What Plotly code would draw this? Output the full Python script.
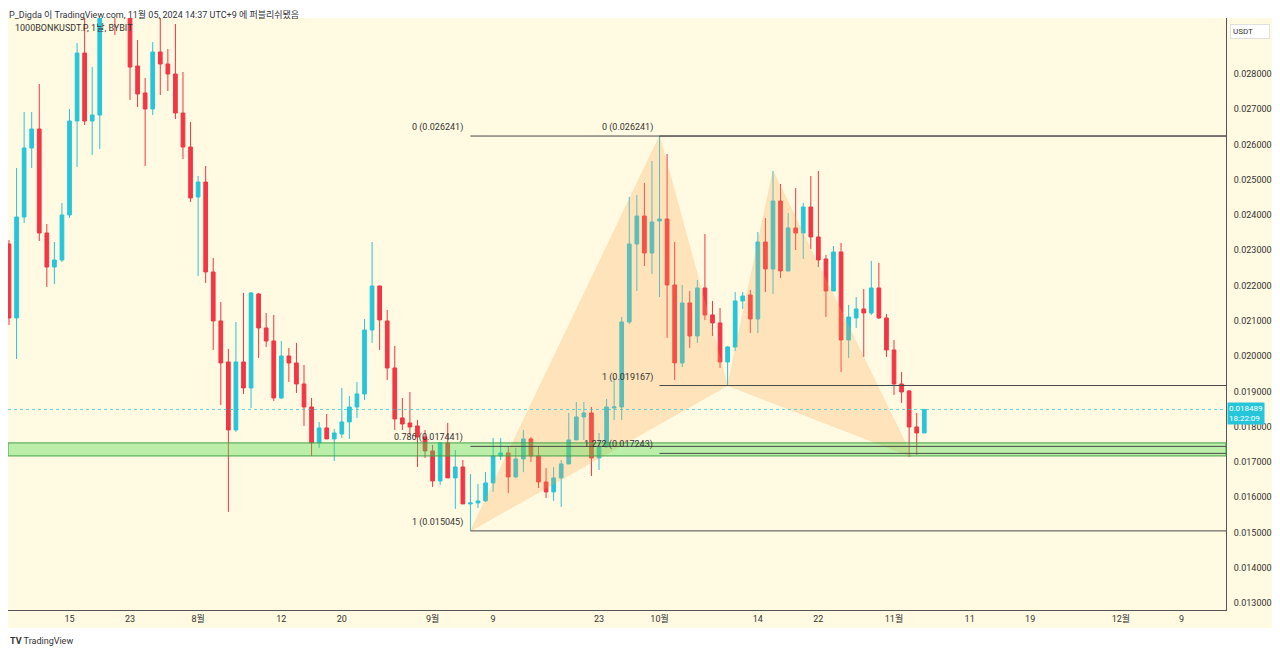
import pandas as pd
import plotly.graph_objects as go

# ---------------- data ----------------
dates = pd.date_range("2024-07-07", periods=122, freq="D")

opens = [0.023180,0.021083,0.023946,0.025902,0.026441,0.023492,0.022528,0.022727,0.024003,0.026668,
         0.028595,0.026668,0.026838,0.030000,0.030600,0.029900,0.030400,0.028227,0.027461,0.027008,
         0.028624,0.028284,0.028000,0.026894,0.025930,0.024513,0.024938,0.022387,0.020998,0.019835,
         0.017907,0.019835,0.019098,0.021763,0.020799,0.020431,0.018815,0.020005,0.019807,0.019211,
         0.018559,0.017539,0.017964,0.017652,0.017794,0.018134,0.018559,0.018928,0.020742,0.021990,
         0.020998,0.019665,0.018248,0.018106,0.018021,0.017709,0.017312,0.016462,0.017539,0.016547,
         0.016858,0.015810,0.015838,0.015895,0.016405,0.017170,0.017255,0.016575,0.017085,0.017652,
         0.017170,0.016433,0.016150,0.016547,0.016943,0.017624,0.018276,0.018389,0.017114,0.017425,
         0.018531,0.018559,0.020969,0.023180,0.023974,0.022925,0.023833,0.023889,0.022018,0.019807,
         0.021508,0.020572,0.021933,0.021168,0.020941,0.019835,0.020260,0.021565,0.021735,0.021054,
         0.023237,0.022472,0.024400,0.022415,0.023634,0.023492,0.024229,0.023379,0.022755,0.021848,
         0.022954,0.020459,0.021083,0.021338,0.021224,0.021933,0.021083,0.020175,0.019211,0.019013,
         0.017992,0.017822]
highs = [0.023294,0.025335,0.026923,0.026923,0.027716,0.023747,0.023237,0.024343,0.027008,0.028879,
         0.029800,0.028198,0.030300,0.031000,0.031200,0.030800,0.030700,0.028964,0.027887,0.028907,
         0.029700,0.028709,0.029418,0.028057,0.026639,0.025108,0.025392,0.022784,0.021536,0.020204,
         0.020969,0.021791,0.021820,0.021790,0.021224,0.021168,0.020431,0.020232,0.020374,0.019750,
         0.018815,0.018134,0.018361,0.017936,0.019098,0.018871,0.019268,0.021054,0.023237,0.022000,
         0.021309,0.020289,0.018815,0.018985,0.018191,0.017907,0.017482,0.017560,0.018106,0.017340,
         0.017057,0.016660,0.016376,0.016717,0.017681,0.017681,0.017425,0.017397,0.017907,0.017709,
         0.017425,0.016830,0.016858,0.017057,0.018389,0.018701,0.018701,0.018559,0.017822,0.018786,
         0.019382,0.021111,0.024513,0.024570,0.024910,0.025534,0.026241,0.025732,0.023237,0.022018,
         0.021848,0.022160,0.023464,0.021565,0.021366,0.020280,0.021820,0.021820,0.021876,0.023521,
         0.023918,0.025250,0.024881,0.024059,0.024768,0.024343,0.025108,0.025250,0.022869,0.023124,
         0.023209,0.021451,0.021678,0.021905,0.022699,0.022642,0.021196,0.020459,0.019552,0.019041,
         0.018389,0.018489]
lows = [0.020884,0.019920,0.023776,0.025335,0.023266,0.021961,0.022046,0.022670,0.023918,0.025363,
        0.026554,0.025704,0.025874,0.029700,0.029106,0.029700,0.027263,0.027064,0.025392,0.026838,
        0.027405,0.027518,0.026724,0.025590,0.024371,0.022273,0.022075,0.020175,0.018616,0.015583,
        0.017851,0.018928,0.018531,0.019949,0.020260,0.018730,0.018786,0.019268,0.018956,0.018021,
        0.017170,0.017397,0.017652,0.017029,0.017681,0.017652,0.018248,0.018758,0.020374,0.020175,
        0.019325,0.017907,0.017907,0.017766,0.016858,0.017114,0.016291,0.016348,0.016547,0.015668,
        0.015810,0.015045,0.015696,0.015866,0.016150,0.017057,0.016121,0.016550,0.016717,0.017000,
        0.016263,0.015980,0.015895,0.015724,0.016943,0.017624,0.017624,0.016603,0.016773,0.017425,
        0.018191,0.018191,0.020912,0.021848,0.022557,0.022330,0.021678,0.020516,0.019325,0.019693,
        0.020232,0.020374,0.021026,0.020572,0.019665,0.019167,0.020147,0.021338,0.020657,0.020657,
        0.021820,0.021763,0.022217,0.022415,0.023010,0.022755,0.023039,0.022528,0.021111,0.021848,
        0.019552,0.019949,0.020799,0.019977,0.021168,0.021054,0.019977,0.018900,0.018673,0.017142,
        0.017199,0.017822]
closes = [0.021083,0.023946,0.025902,0.026441,0.023492,0.022528,0.022727,0.024003,0.026668,0.028595,
          0.026668,0.026838,0.030000,0.030600,0.029900,0.030400,0.028198,0.027433,0.027008,0.028624,
          0.028284,0.028000,0.026894,0.025930,0.024485,0.024938,0.022387,0.020998,0.019807,0.017907,
          0.019835,0.019098,0.021791,0.020799,0.020431,0.018815,0.020005,0.019807,0.019211,0.018559,
          0.017539,0.017964,0.017652,0.017822,0.018134,0.018559,0.018928,0.020742,0.021990,0.021026,
          0.019665,0.018219,0.018077,0.017992,0.017709,0.017312,0.016462,0.017539,0.016547,0.016858,
          0.015810,0.015838,0.015895,0.016405,0.017170,0.017255,0.016575,0.017085,0.017652,0.017170,
          0.016433,0.016150,0.016547,0.016943,0.017624,0.018276,0.018389,0.017114,0.017425,0.018559,
          0.018559,0.020969,0.023180,0.023974,0.022925,0.023804,0.023889,0.022018,0.019807,0.021508,
          0.020572,0.021933,0.021168,0.020941,0.019835,0.020260,0.021565,0.021706,0.021054,0.023237,
          0.022472,0.024400,0.022415,0.023634,0.023492,0.024229,0.023379,0.022727,0.021848,0.022954,
          0.020459,0.021111,0.021338,0.021224,0.021933,0.021083,0.020175,0.019211,0.018985,0.017992,
          0.017822,0.018489]

# harmonic pattern points (X, A, B, C, D)
pattern_dates = ["2024-09-06", "2024-10-01", "2024-10-10", "2024-10-16", "2024-11-03 10:00"]
pattern_prices = [0.015045, 0.026241, 0.019167, 0.025250, 0.017142]

# fibonacci levels: (start date, price, label)
fib_starts = ["2024-09-06", "2024-09-06", "2024-09-06", "2024-10-01", "2024-10-01", "2024-10-01"]
fib_prices = [0.026241, 0.017441, 0.015045, 0.026241, 0.019167, 0.017243]
fib_labels = ["0 (0.026241)", "0.786 (0.017441)", "1 (0.015045)",
              "0 (0.026241)", "1 (0.019167)", "1.272 (0.017243)"]

zone_low, zone_high = 0.01717, 0.01754
last_price = 0.018489
countdown = "18:22:09"

tick_dates = ["2024-07-15", "2024-07-23", "2024-08-01", "2024-08-12", "2024-08-20", "2024-09-01",
              "2024-09-09", "2024-09-23", "2024-10-01", "2024-10-14", "2024-10-22", "2024-11-01",
              "2024-11-11", "2024-11-19", "2024-12-01", "2024-12-09"]
tick_labels = ["15", "23", "8월", "12", "20", "9월", "9", "23", "10월", "14", "22", "11월",
               "11", "19", "12월", "9"]

price_ticks = [0.013, 0.014, 0.015, 0.016, 0.017, 0.018, 0.019, 0.020, 0.021, 0.022,
               0.023, 0.024, 0.025, 0.026, 0.027, 0.028]

# ---------------- style ----------------
UP = "#26c6da"
DOWN = "#f23645"
BG = "#fffae1"
FONT = "Roboto, 'Noto Sans CJK KR', sans-serif"
X_RANGE = ["2024-07-06 20:50", "2024-12-14 21:20"]
Y_RANGE = [0.012802, 0.029588]

fig = go.Figure()

# harmonic triangles XAB and BCD
tri1_x = [pattern_dates[0], pattern_dates[1], pattern_dates[2], pattern_dates[0]]
tri1_y = [pattern_prices[0], pattern_prices[1], pattern_prices[2], pattern_prices[0]]
tri2_x = [pattern_dates[2], pattern_dates[3], pattern_dates[4], pattern_dates[2]]
tri2_y = [pattern_prices[2], pattern_prices[3], pattern_prices[4], pattern_prices[2]]
for tx, ty in [(tri1_x, tri1_y), (tri2_x, tri2_y)]:
    fig.add_trace(go.Scatter(x=tx, y=ty, mode="lines", fill="toself",
                             fillcolor="rgba(255,165,80,0.26)",
                             line=dict(color="rgba(255,165,80,0.15)", width=1),
                             hoverinfo="skip", showlegend=False))

fig.add_trace(go.Candlestick(
    x=dates, open=opens, high=highs, low=lows, close=closes,
    increasing=dict(line=dict(color=UP, width=1), fillcolor=UP),
    decreasing=dict(line=dict(color=DOWN, width=1), fillcolor=DOWN),
    whiskerwidth=0, hoverinfo="skip", showlegend=False))

shapes = []
# yellow background behind axes area
shapes.append(dict(type="rect", xref="paper", yref="paper", x0=0, x1=1.0386, y0=-0.0304, y1=1.0,
                   fillcolor=BG, line=dict(width=0), layer="below"))
# green zone
shapes.append(dict(type="rect", xref="paper", yref="y", x0=0, x1=1, y0=zone_low, y1=zone_high,
                   fillcolor="rgba(76,220,80,0.38)", line=dict(color="#43a047", width=1), layer="above"))
# fib lines
for s, p in zip(fib_starts, fib_prices):
    shapes.append(dict(type="line", xref="x", yref="y", x0=s, x1=X_RANGE[1], y0=p, y1=p,
                       line=dict(color="#4a4a4a", width=1), layer="above"))
# last price dotted line
shapes.append(dict(type="line", xref="paper", yref="y", x0=0, x1=1, y0=last_price, y1=last_price,
                   line=dict(color="rgba(38,198,218,0.75)", width=1, dash="dot"), layer="above"))

annotations = []
for s, p, t in zip(fib_starts, fib_prices, fib_labels):
    annotations.append(dict(x=s, y=p, xref="x", yref="y", text=t, showarrow=False,
                            xanchor="right", yanchor="bottom", xshift=-5, yshift=1,
                            font=dict(size=9, color="#333333", family=FONT)))
# price label box
annotations.append(dict(x=1, y=last_price, xref="paper", yref="y",
                        text=f"{last_price:.6f}<br>{countdown}", showarrow=False,
                        xanchor="left", yanchor="top", xshift=1, yshift=7,
                        bgcolor=UP, borderpad=1, align="left",
                        font=dict(size=8, color="white", family=FONT)))
# USDT box
annotations.append(dict(x=1, y=0.978, xref="paper", yref="paper", text="USDT", showarrow=False,
                        xanchor="left", yanchor="middle", xshift=4, width=34, align="left",
                        bgcolor="white", bordercolor="#e0e0e0", borderwidth=1, borderpad=2,
                        font=dict(size=8, color="#333333", family=FONT)))
# header
annotations.append(dict(x=0, y=1.0169, xref="paper", yref="paper",
                        text="P_Digda 이 TradingView.com, 11월 05, 2024 14:37 UTC+9 에 퍼블리쉬됐음",
                        showarrow=False, xanchor="left", yanchor="top", borderpad=0,
                        font=dict(size=9, color="#333333", family=FONT)))
# symbol
annotations.append(dict(x=0.004, y=0.983, xref="paper", yref="paper",
                        text="1000BONKUSDT.P, 1날, BYBIT", showarrow=False,
                        xanchor="left", yanchor="middle",
                        font=dict(size=9, color="#333333", family=FONT)))
# footer logo
annotations.append(dict(x=0.0, y=-0.052, xref="paper", yref="paper",
                        text="<b>TV</b> TradingView", showarrow=False,
                        xanchor="left", yanchor="middle",
                        font=dict(size=9, color="#333333", family=FONT)))

fig.update_layout(
    width=1272, height=646,
    margin=dict(l=0, r=54, t=10, b=44),
    paper_bgcolor="white", plot_bgcolor=BG,
    font=dict(family=FONT, size=9, color="#333333"),
    shapes=shapes, annotations=annotations,
    showlegend=False, hovermode=False,
    xaxis=dict(type="date", range=X_RANGE, rangeslider=dict(visible=False),
               tickvals=tick_dates, ticktext=tick_labels, showgrid=False, zeroline=False,
               showline=True, linecolor="#555555", linewidth=1, ticks="",
               tickfont=dict(size=9, color="#333333")),
    yaxis=dict(range=Y_RANGE, side="right", tickvals=price_ticks, tickformat=".6f",
               showgrid=False, zeroline=False, showline=True, linecolor="#555555", linewidth=1,
               ticks="", ticklabelstandoff=5, tickfont=dict(size=9, color="#333333")),
)

fig.write_html("out.html")
